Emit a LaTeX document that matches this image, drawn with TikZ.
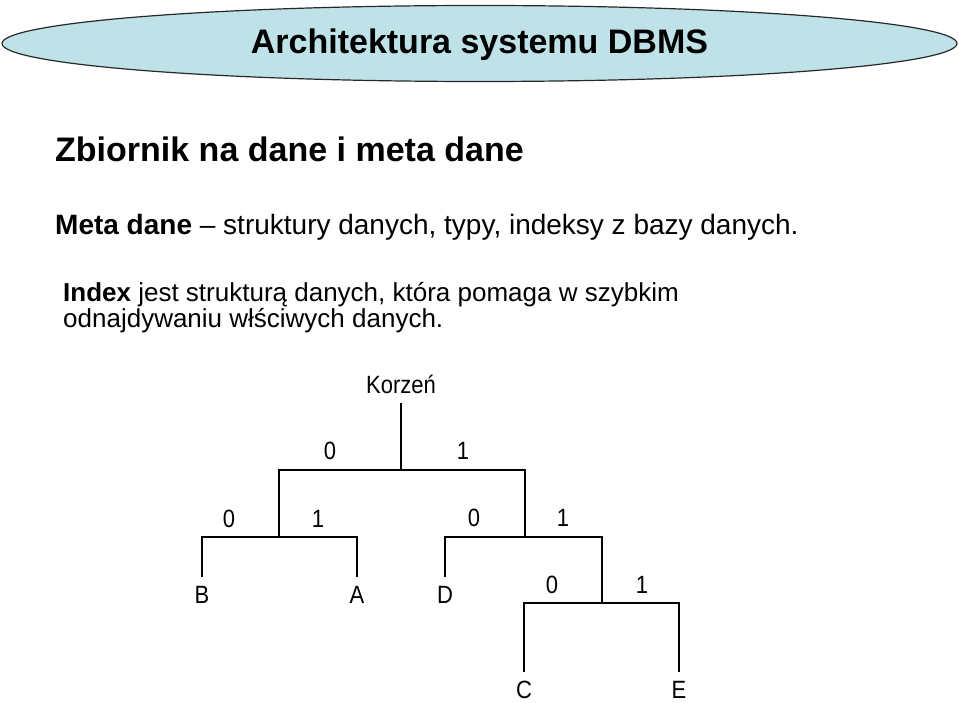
\documentclass[tikz,border=0pt]{standalone}
\usepackage{fontspec}
\setmainfont{Liberation Sans}
\newfontfamily\treefont[FakeStretch=0.88]{Liberation Sans}
\usetikzlibrary{shapes.geometric}
\definecolor{lagoon}{RGB}{190,226,232}
\definecolor{rim}{RGB}{40,40,40}

\begin{document}
\begin{tikzpicture}[x=1pt,y=-1pt,
  txt/.style={anchor=base west,inner sep=0pt},
  bit/.style={anchor=base,inner sep=0pt,font=\treefont\fontsize{25}{28}\selectfont},
  leaf/.style={anchor=base,inner sep=0pt,text height=26pt,text depth=0pt,font=\treefont\fontsize{25}{28}\selectfont},
  branch/.style={line width=1.5pt}]
  \useasboundingbox (0,0) rectangle (959,703);
  % title banner
  \node[ellipse,draw=rim,line width=1.2pt,fill=lagoon,minimum width=955pt,minimum height=76pt,
        text height=23pt,text depth=2pt,font=\fontsize{34}{38}\selectfont\bfseries] (banner) at (479.5,43.5) {Architektura systemu DBMS};
  % text lines
  \node[txt,font=\fontsize{34}{40}\selectfont\bfseries] (heading) at (55,162) {Zbiornik na dane i meta dane};
  \node[txt,font=\fontsize{28}{32}\selectfont] (meta) at (55,235) {\textbf{Meta dane} – struktury danych, typy, indeksy z bazy danych.};
  \node[txt,font=\fontsize{26}{30}\selectfont] (idx) at (63,302) {\textbf{Index} jest strukturą danych, która pomaga w szybkim};
  \node[txt,font=\fontsize{26}{30}\selectfont] (idxb) at (63,328) {odnajdywaniu włściwych danych.};
  % tree
  \node[anchor=base,inner xsep=0pt,inner ysep=10pt,font=\treefont\fontsize{25}{28}\selectfont] (root) at (401,393) {Korzeń};
  \coordinate (r) at (401,470);
  \coordinate (s0) at (279,537);
  \coordinate (s1) at (525,537);
  \coordinate (s11) at (602,603);
  \foreach \n/\x/\y in {B/202/603,A/357/603,D/445/603,C/524/698,E/679/698}
    \node[leaf] (\n) at (\x,\y) {\n};
  \foreach \b/\x/\y [count=\i] in {0/330/459,1/463/459,0/229/527,1/318/527,
                                   0/474/526,1/563/526,0/552/593,1/642/593}
    \node[bit] (bit\i) at (\x,\y) {\b};
  \draw[branch] (root) -- (r);
  \draw[branch] (s0) |- (r) -| (s1);
  \draw[branch] (B) |- (s0) -| (A);
  \draw[branch] (D) |- (s1) -| (s11);
  \draw[branch] (C) |- (s11) -| (E);
\end{tikzpicture}
\end{document}
